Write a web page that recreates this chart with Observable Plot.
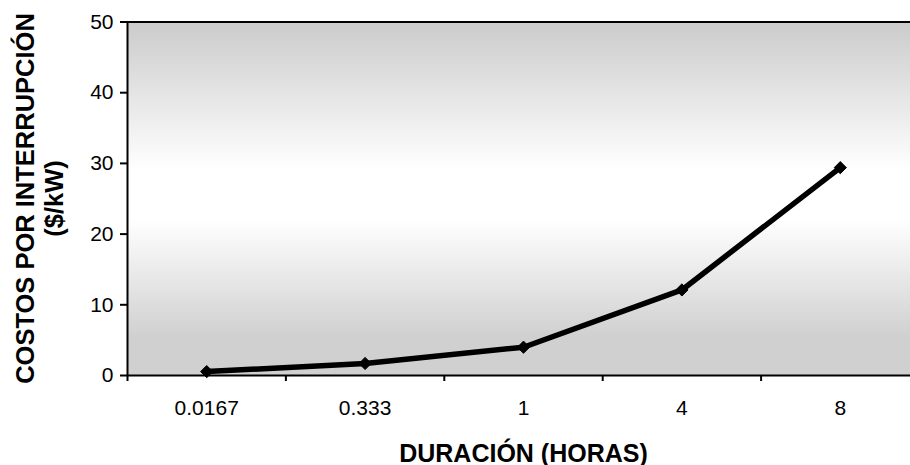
<!DOCTYPE html>
<html>
<head>
<meta charset="utf-8">
<script src="https://cdn.jsdelivr.net/npm/d3@7"></script>
<script src="https://cdn.jsdelivr.net/npm/@observablehq/plot@0.6"></script>
<style>
  html, body { margin: 0; padding: 0; background: #fff; }
</style>
</head>
<body>
<div id="chart"></div>
<script>
const categories = ["0.0167", "0.333", "1", "4", "8"];
const costs = [0.55, 1.7, 4.0, 12.1, 29.4];
const yTicks = [0, 10, 20, 30, 40, 50];
const yTitle = "COSTOS POR INTERRUPCIÓN\n($/kW)";
const xTitle = "DURACIÓN (HORAS)";

const data = categories.map((c, i) => ({idx: i, label: c, value: costs[i]}));
const idx = categories.map((_, i) => i);
const bounds = categories.map((_, i) => i - 0.5);

const chart = Plot.plot({
  width: 910,
  height: 465,
  marginTop: 21,
  marginBottom: 90,
  marginLeft: 127,
  marginRight: 0,
  style: {fontFamily: "Arial, 'Liberation Sans', sans-serif", fontSize: "21px", color: "#000", background: "transparent"},
  x: {type: "linear", domain: [-0.5, categories.length - 0.5], range: [127, 919]},
  y: {domain: [0, 50], range: [375, 21.5]},
  marks: [
    Plot.frame({fill: "url(#bgGrad)", stroke: "none"}),
    Plot.ruleY([0, 50], {stroke: "#000", strokeWidth: 2}),
    Plot.ruleX([-0.5], {stroke: "#000", strokeWidth: 2}),
    Plot.axisY({ticks: yTicks, tickSize: 7, tickPadding: 7, tickFormat: d => String(d), label: null, fontSize: 21, strokeWidth: 2}),
    Plot.axisX({ticks: bounds, tickSize: 6, tickFormat: () => "", label: null, strokeWidth: 2}),
    Plot.axisX({ticks: idx, tickSize: 0, tickPadding: 25, tickFormat: i => categories[i], label: null, fontSize: 21}),
    Plot.line(data, {x: "idx", y: "value", stroke: "#000", strokeWidth: 5.5}),
    Plot.dot(data, {x: "idx", y: "value", symbol: "diamond2", r: 5.5, fill: "#000", stroke: "#000", strokeWidth: 1}),
    Plot.text([yTitle], {frameAnchor: "left", dx: -88, rotate: -90, fontSize: 25.5, fontWeight: "bold", lineHeight: 1.1, textAnchor: "middle", lineAnchor: "middle", fill: "#000"}),
    Plot.text([xTitle], {frameAnchor: "bottom", dy: 78, fontSize: 25, fontWeight: "bold", lineAnchor: "middle", fill: "#000", x: () => 2, textAnchor: "middle"})
  ]
});

const svgNS = "http://www.w3.org/2000/svg";
const defs = document.createElementNS(svgNS, "defs");
const grad = document.createElementNS(svgNS, "linearGradient");
grad.setAttribute("id", "bgGrad");
grad.setAttribute("x1", "0"); grad.setAttribute("y1", "0");
grad.setAttribute("x2", "0"); grad.setAttribute("y2", "1");
[[0, "#cbcbcb"], [0.42, "#ffffff"], [0.56, "#ffffff"], [0.89, "#d0d0d0"], [1, "#d0d0d0"]].forEach(([o, c]) => {
  const s = document.createElementNS(svgNS, "stop");
  s.setAttribute("offset", o);
  s.setAttribute("stop-color", c);
  grad.appendChild(s);
});
defs.appendChild(grad);
chart.insertBefore(defs, chart.firstChild);
document.getElementById("chart").appendChild(chart);
</script>
</body>
</html>
